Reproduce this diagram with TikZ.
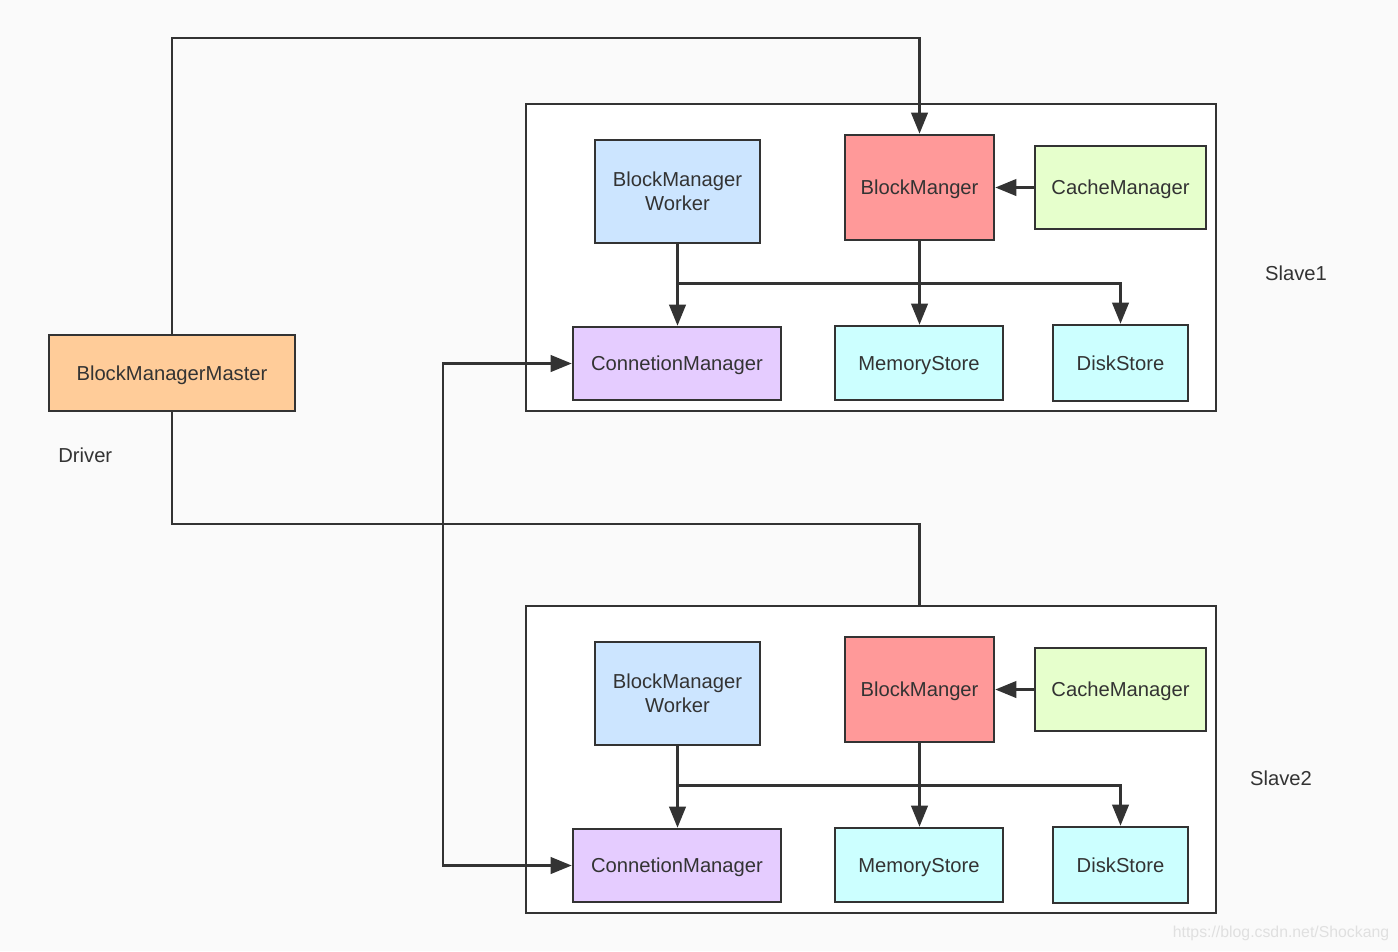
\documentclass[tikz,border=0pt]{standalone}
\usepackage{fontspec}
\setmainfont{Liberation Sans}
\usetikzlibrary{arrows.meta,calc}
\definecolor{ink}{HTML}{333333}
\definecolor{bg}{HTML}{FAFAFA}
\definecolor{cmaster}{HTML}{FFCC99}
\definecolor{cworker}{HTML}{CCE5FF}
\definecolor{cbm}{HTML}{FF9999}
\definecolor{ccache}{HTML}{E6FFCC}
\definecolor{cconn}{HTML}{E5CCFF}
\definecolor{cstore}{HTML}{CCFFFF}
\definecolor{wm}{HTML}{E0E0E0}
\tikzset{
  box/.style={draw=ink, line width=1.5pt, align=center, text=ink, inner sep=0pt,
    text depth=-5.6pt, font=\fontsize{11.5}{13.7}\selectfont},
  container/.style={draw=ink, line width=1.3pt, fill=white, inner sep=0pt},
  conn/.style={draw=ink, line width=1.4pt},
  arr/.style={conn, -{Triangle[length=0.42cm, width=0.33cm]}},
  biarr/.style={conn, {Triangle[length=0.42cm, width=0.33cm]}-{Triangle[length=0.42cm, width=0.33cm]}},
  lbl/.style={text=ink, inner sep=0pt, font=\fontsize{11.5}{13.7}\selectfont},
}
\begin{document}
\begin{tikzpicture}[x=0.02cm, y=-0.02cm]
\fill[bg] (0,0) rectangle (1398,951);
\useasboundingbox (0,0) rectangle (1398,951);

% containers
\node[container, minimum width=13.8cm, minimum height=6.14cm] (s1) at (871,257.5) {};
\node[container, minimum width=13.8cm, minimum height=6.14cm] (s2) at (871,759.5) {};

% driver
\node[box, fill=cmaster, minimum width=4.92cm, minimum height=1.52cm] (master) at (172,373) {BlockManagerMaster};
\node[lbl, anchor=west] (driver) at (58,455) {Driver};

% slave 1
\node[box, fill=cworker, minimum width=3.3cm, minimum height=2.06cm] (w1) at (677.5,191.5) {BlockManager\\Worker};
\node[box, fill=cbm, minimum width=2.98cm, minimum height=2.1cm] (bm1) at (919.5,187.5) {BlockManger};
\node[box, fill=ccache, minimum width=3.42cm, minimum height=1.66cm] (ca1) at (1120.5,187.5) {CacheManager};
\node[box, fill=cconn, minimum width=4.16cm, minimum height=1.46cm] (c1) at (677,363.5) {ConnetionManager};
\node[box, fill=cstore, minimum width=3.36cm, minimum height=1.48cm] (m1) at (919,363) {MemoryStore};
\node[box, fill=cstore, minimum width=2.7cm, minimum height=1.52cm] (d1) at (1120.5,363) {DiskStore};
\node[lbl] (l1) at (1296,273) {Slave1};

% slave 2
\node[box, fill=cworker, minimum width=3.3cm, minimum height=2.06cm] (w2) at (677.5,693.5) {BlockManager\\Worker};
\node[box, fill=cbm, minimum width=2.98cm, minimum height=2.1cm] (bm2) at (919.5,689.5) {BlockManger};
\node[box, fill=ccache, minimum width=3.42cm, minimum height=1.66cm] (ca2) at (1120.5,689.5) {CacheManager};
\node[box, fill=cconn, minimum width=4.16cm, minimum height=1.46cm] (c2) at (677,865.5) {ConnetionManager};
\node[box, fill=cstore, minimum width=3.36cm, minimum height=1.48cm] (m2) at (919,865) {MemoryStore};
\node[box, fill=cstore, minimum width=2.7cm, minimum height=1.52cm] (d2) at (1120.5,865) {DiskStore};
\node[lbl] (l2) at (1281,778) {Slave2};

% helper coordinates
\coordinate (top) at (0,38);
\coordinate (mid) at (0,524);
\coordinate (lx) at (443,0);
\coordinate (h1) at (0,283.5);
\coordinate (h2) at (0,785.5);

% driver links
\draw[arr] (master.north) |- (top -| bm1.north) -- (bm1.north);
\draw[conn] (master.south) |- (mid -| bm2.north) -- (s2.north -| bm2.north);

% connection managers link
\draw[biarr] (c1.west) -- (c1.west -| lx) -- (c2.west -| lx) -- (c2.west);

% slave 1 internals
\draw[arr] (w1.south) -- (w1.south |- c1.north);
\draw[conn] (w1.south |- h1) -- (h1 -| bm1.south);
\draw[arr] (bm1.south) -- (bm1.south |- m1.north);
\draw[arr] (h1 -| bm1.south) -| (d1.north);
\draw[arr] (ca1.west) -- (ca1.west -| bm1.east);

% slave 2 internals
\draw[arr] (w2.south) -- (w2.south |- c2.north);
\draw[conn] (w2.south |- h2) -- (h2 -| bm2.south);
\draw[arr] (bm2.south) -- (bm2.south |- m2.north);
\draw[arr] (h2 -| bm2.south) -| (d2.north);
\draw[arr] (ca2.west) -- (ca2.west -| bm2.east);

% watermark
\node[text=wm, inner sep=0pt, font=\fontsize{9}{11}\selectfont] (wmk) at (1281,933) {https://blog.csdn.net/Shockang};
\end{tikzpicture}
\end{document}
